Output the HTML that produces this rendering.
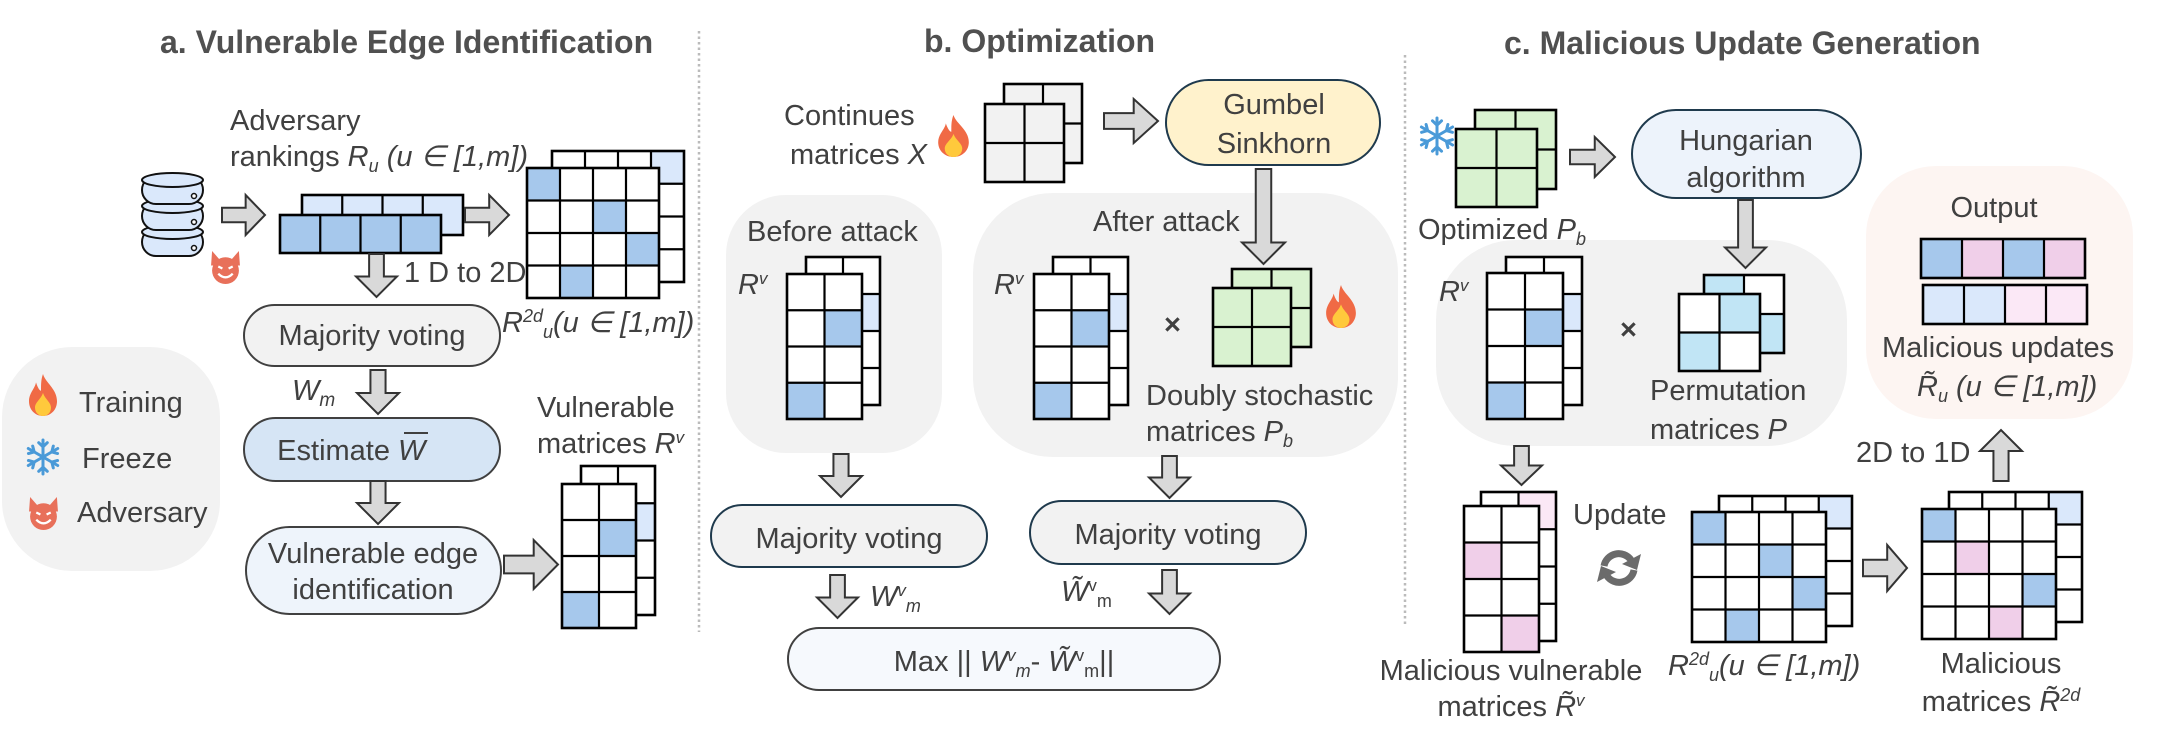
<!DOCTYPE html>
<html><head><meta charset="utf-8"><style>
html,body{margin:0;padding:0;background:#fff;width:2163px;height:756px;overflow:hidden}
svg{display:block}
text{font-family:"Liberation Sans",sans-serif;fill:#404040;font-size:29px}
.t{font-weight:bold;font-size:32px;fill:#505050}
.i{font-style:italic}
</style></head><body>
<svg id="s" width="2163" height="756" viewBox="0 0 2163 756" xmlns="http://www.w3.org/2000/svg">
<g id="bg"></g>
<g id="sh"></g>
<text class="t" x="160" y="53">a. Vulnerable Edge Identification</text>
<text class="t" x="924" y="52">b. Optimization</text>
<text class="t" x="1504" y="54">c. Malicious Update Generation</text>

<text x="230" y="130">Adversary</text>
<text x="230" y="166">rankings <tspan class="i">R</tspan><tspan class="i" font-size="18" dy="6">u</tspan><tspan class="i" dy="-6"> (u ∈ [1,m])</tspan></text>
<text x="404" y="282">1 D to 2D</text>
<text x="502" y="332" class="i">R<tspan font-size="18" dy="-10">2d</tspan><tspan font-size="18" dy="16">u</tspan><tspan dy="-6">(u ∈ [1,m])</tspan></text>
<text x="372" y="345" text-anchor="middle">Majority voting</text>
<text x="292" y="400" class="i" font-family="Liberation Serif">W<tspan font-size="19" dy="6">m</tspan></text>
<text x="390" y="460" text-anchor="end">Estimate</text>
<text x="398" y="460" class="i">W</text>
<text x="373" y="563" text-anchor="middle">Vulnerable edge</text>
<text x="373" y="599" text-anchor="middle">identification</text>
<text x="537" y="417">Vulnerable</text>
<text x="537" y="453">matrices <tspan class="i">R</tspan><tspan class="i" font-size="17" dy="-10">v</tspan></text>
<text x="79" y="412">Training</text>
<text x="82" y="468">Freeze</text>
<text x="77" y="522">Adversary</text>

<text x="784" y="125">Continues</text>
<text x="790" y="164">matrices <tspan class="i">X</tspan></text>
<text x="1274" y="114" text-anchor="middle">Gumbel</text>
<text x="1274" y="153" text-anchor="middle">Sinkhorn</text>
<text x="747" y="241">Before attack</text>
<text x="738" y="294" class="i">R<tspan font-size="17" dy="-10">v</tspan></text>
<text x="1093" y="231">After attack</text>
<text x="994" y="294" class="i">R<tspan font-size="17" dy="-10">v</tspan></text>
<text x="1146" y="405">Doubly stochastic</text>
<text x="1146" y="441">matrices <tspan class="i">P</tspan><tspan class="i" font-size="18" dy="6">b</tspan></text>
<text x="849" y="548" text-anchor="middle">Majority voting</text>
<text x="1168" y="544" text-anchor="middle">Majority voting</text>
<text x="870" y="606" class="i">W<tspan font-size="17" dy="-10">v</tspan><tspan font-size="18" dy="16">m</tspan></text>
<text x="1061" y="601" class="i">W̃<tspan font-size="17" dy="-10" font-style="normal">v</tspan><tspan font-size="18" dy="16" font-style="normal">m</tspan></text>
<text x="1004" y="671" text-anchor="middle">Max || <tspan class="i">W</tspan><tspan font-size="17" dy="-10" class="i">v</tspan><tspan font-size="18" dy="16" class="i">m</tspan><tspan dy="-6">- </tspan><tspan class="i">W̃</tspan><tspan font-size="17" dy="-10">v</tspan><tspan font-size="18" dy="16">m</tspan><tspan dy="-6">||</tspan></text>

<text x="1418" y="239">Optimized <tspan class="i">P</tspan><tspan class="i" font-size="18" dy="6">b</tspan></text>
<text x="1746" y="150" text-anchor="middle">Hungarian</text>
<text x="1746" y="187" text-anchor="middle">algorithm</text>
<text x="1439" y="301" class="i">R<tspan font-size="17" dy="-10">v</tspan></text>
<text x="1650" y="400">Permutation</text>
<text x="1650" y="439">matrices <tspan class="i">P</tspan></text>
<text x="1994" y="217" text-anchor="middle">Output</text>
<text x="1882" y="357">Malicious updates</text>
<text x="1917" y="396" class="i">R̃<tspan font-size="18" dy="6">u</tspan><tspan dy="-6"> (u ∈ [1,m])</tspan></text>
<text x="1856" y="462">2D to 1D</text>
<text x="1573" y="524">Update</text>
<text x="1511" y="680" text-anchor="middle">Malicious vulnerable</text>
<text x="1511" y="716" text-anchor="middle">matrices <tspan class="i">R̃</tspan><tspan class="i" font-size="17" dy="-10">v</tspan></text>
<text x="1668" y="675" class="i">R<tspan font-size="18" dy="-10">2d</tspan><tspan font-size="18" dy="16">u</tspan><tspan dy="-6">(u ∈ [1,m])</tspan></text>
<text x="2001" y="673" text-anchor="middle">Malicious</text>
<text x="2001" y="711" text-anchor="middle">matrices <tspan class="i">R̃</tspan><tspan class="i" font-size="18" dy="-10">2d</tspan></text>
<text x="1164" y="334" font-size="28" font-weight="bold" fill="#404040">×</text>
<text x="1620" y="339" font-size="28" font-weight="bold" fill="#404040">×</text>
</svg>
<script>
var NS="http://www.w3.org/2000/svg",bg=document.getElementById('bg'),sh=document.getElementById('sh');
function el(p,t,a){var e=document.createElementNS(NS,t);for(var k in a)e.setAttribute(k,a[k]);p.appendChild(e);return e;}
function rr(x0,y0,x1,y1,r,f,st){el(bg,'rect',{x:x0,y:y0,width:x1-x0,height:y1-y0,rx:r,fill:f,stroke:st||'none','stroke-width':2});}
function pill(x0,y0,x1,y1,f,st){el(sh,'rect',{x:x0,y:y0,width:x1-x0,height:y1-y0,rx:(y1-y0)/2,fill:f,stroke:st||'#404040','stroke-width':2});}
function mat(x0,y0,x1,y1,c,r,fill,cells){var w=(x1-x0)/c,h=(y1-y0)/r;
 el(sh,'rect',{x:x0,y:y0,width:x1-x0,height:y1-y0,fill:fill});
 for(var k in cells){var p=k.split(',');el(sh,'rect',{x:x0+p[1]*w,y:y0+p[0]*h,width:w,height:h,fill:cells[k]});}
 for(var i=1;i<c;i++)el(sh,'line',{x1:x0+i*w,y1:y0,x2:x0+i*w,y2:y1,stroke:'#000','stroke-width':2.2});
 for(var j=1;j<r;j++)el(sh,'line',{x1:x0,y1:y0+j*h,x2:x1,y2:y0+j*h,stroke:'#000','stroke-width':2.2});
 el(sh,'rect',{x:x0,y:y0,width:x1-x0,height:y1-y0,fill:'none',stroke:'#000','stroke-width':2.6});}
function arr(d,x0,y0,x1,y1){var p,w=x1-x0,h=y1-y0;
 if(d=='r'){var cy=(y0+y1)/2,s=h*0.18,hx=x1-w*0.45;p=[[x0,cy-s],[hx,cy-s],[hx,y0],[x1,cy],[hx,y1],[hx,cy+s],[x0,cy+s]];}
 if(d=='d'){var cx=(x0+x1)/2,s=w*0.18,hy=y1-Math.min(h*0.5,w*0.5);p=[[cx-s,y0],[cx+s,y0],[cx+s,hy],[x1,hy],[cx,y1],[x0,hy],[cx-s,hy]];}
 if(d=='u'){var cx=(x0+x1)/2,s=w*0.18,hy=y0+w*0.5;p=[[cx-s,y1],[cx+s,y1],[cx+s,hy],[x1,hy],[cx,y0],[x0,hy],[cx-s,hy]];}
 el(sh,'polygon',{points:p.map(function(q){return q.join(',')}).join(' '),fill:'#d9d9d9',stroke:'#333','stroke-width':2});}
function fire(x,y,w,h){var g=el(sh,'g',{transform:'translate('+x+','+y+') scale('+w/32+','+h/40+')'});
 el(g,'path',{d:'M16 0 C18 8 30 14 30 26 C30 34 24 40 16 40 C8 40 2 34 2 26 C2 18 8 14 9 8 C11 14 13 16 14 16 C14 10 14 5 16 0Z',fill:'#f06a45'});
 el(g,'path',{d:'M16 18 C18 24 24 27 24 32 C24 37 20 40 16 40 C12 40 8 37 8 32 C8 27 14 24 16 18Z',fill:'#ffc93c'});}
function devil(x,y,s){var g=el(sh,'g',{transform:'translate('+x+','+y+') scale('+s/32+')'});
 el(g,'path',{d:'M3 0 L10 8 L22 8 L29 0 L30 14 L2 14Z',fill:'#e8705a'});
 el(g,'circle',{cx:16,cy:19,r:13,fill:'#e8705a'});
 el(g,'path',{d:'M9 15 L13 17 M23 15 L19 17',stroke:'#fff','stroke-width':2.2});
 el(g,'path',{d:'M9 22 Q16 29 23 22',stroke:'#fff','stroke-width':2.2,fill:'none'});}
function snow(cx,cy,r){var g=el(sh,'g',{stroke:'#4a9ad8','stroke-width':3,'stroke-linecap':'round',fill:'none'});
 for(var a=0;a<6;a++){var t=a*Math.PI/3+Math.PI/2,dx=Math.cos(t),dy=Math.sin(t);
  el(g,'line',{x1:cx,y1:cy,x2:cx+dx*r,y2:cy+dy*r});
  var bx=cx+dx*r*0.6,by=cy+dy*r*0.6;
  for(var s=-1;s<=1;s+=2){var t2=t+s*0.8;el(g,'line',{x1:bx,y1:by,x2:bx+Math.cos(t2)*r*0.35,y2:by+Math.sin(t2)*r*0.35});}}}
var B='#a6c8ec',LB='#dae8fb',P='#f0cfe9',LP='#fbe8f6',G='#d9f2d0',PB='#c1e5f5',W='#fff';
rr(2,347,220,571,70,'#f2f2f2');
rr(726,195,942,453,60,'#f2f2f2');
rr(973,193,1398,457,80,'#f2f2f2');
rr(1436,240,1847,446,80,'#f2f2f2');
rr(1866,166,2133,419,70,'#fdf5f2');
el(bg,'line',{x1:699,y1:31,x2:699,y2:632,stroke:'#bbb','stroke-width':2.5,'stroke-dasharray':'2.5 3'});
el(bg,'line',{x1:1405,y1:55,x2:1405,y2:625,stroke:'#bbb','stroke-width':2.5,'stroke-dasharray':'2.5 3'});
(function(){var g=sh;for(var i=2;i>=0;i--){var y=176+i*26;
 el(g,'rect',{x:142,y:y,width:61,height:28,rx:14,fill:'#dae8fb',stroke:'#111','stroke-width':2});
 el(g,'ellipse',{cx:172.5,cy:y+4,rx:30.5,ry:7,fill:'#dae8fb',stroke:'#111','stroke-width':2});
 el(g,'circle',{cx:194,cy:y+20,r:2.5,fill:'#fff',stroke:'#111','stroke-width':1.5});}})();
devil(209,251,33);
arr('r',222,195,265,235);
mat(302,195,463,235,4,1,LB,{});
mat(280,215,441,253,4,1,B,{});
arr('r',465,195,509,235);
mat(552,151,684,282,4,4,W,{'0,3':LB});
mat(527,168,659,298,4,4,W,{'0,0':B,'1,2':B,'2,3':B,'3,1':B});
arr('d',356,254,397,297);
pill(244,305,500,366,'#f2f2f2');
arr('d',357,370,399,414);
pill(244,418,500,481,'#d6e5f5');
el(sh,'line',{x1:404,y1:433,x2:428,y2:433,stroke:'#404040','stroke-width':2});
arr('d',357,481,399,524);
pill(246,527,501,614,'#eef4fb');
arr('r',504,540,558,589);
mat(581,466,655,615,2,4,W,{'1,1':LB});
mat(562,484,636,628,2,4,W,{'1,1':B,'3,0':B});
fire(27,374,32,42);
snow(43,457,17);
devil(27,497,33);
fire(936,115,35,42);
mat(1004,84,1082,163,2,2,'#f2f2f2',{});
mat(985,104,1064,182,2,2,'#f2f2f2',{});
arr('r',1104,99,1158,143);
pill(1166,80,1380,165,'#fff2cc','#1f3a4d');
arr('d',1242,169,1285,264);
mat(806,257,880,405,2,4,W,{'1,1':LB});
mat(787,274,862,419,2,4,W,{'1,1':B,'3,0':B});
mat(1053,257,1128,405,2,4,W,{'1,1':LB});
mat(1034,274,1109,419,2,4,W,{'1,1':B,'3,0':B});
mat(1232,269,1311,347,2,2,G,{});
mat(1213,288,1291,366,2,2,G,{});
fire(1324,285,34,43);
arr('d',820,454,862,497);
arr('d',1149,456,1190,498);
pill(711,505,987,567,'#f2f2f2','#1f3a4d');
pill(1030,501,1306,564,'#f2f2f2','#1f3a4d');
arr('d',817,575,858,618);
arr('d',1149,570,1190,614);
pill(788,628,1220,690,'#f6f9fd','#404040');
snow(1437,136,18);
mat(1475,110,1556,189,2,2,G,{});
mat(1456,129,1537,207,2,2,G,{});
arr('r',1570,137,1615,177);
pill(1632,110,1861,198,'#edf3fb','#1f3a4d');
arr('d',1725,200,1766,268);
mat(1506,257,1582,405,2,4,W,{'1,1':LB});
mat(1487,273,1563,419,2,4,W,{'1,1':B,'3,0':B});
mat(1704,275,1784,353,2,2,W,{'0,0':PB,'1,1':PB});
mat(1679,294,1760,371,2,2,W,{'0,1':PB,'1,0':PB});
mat(1921,239,2085,278,4,1,W,{'0,0':B,'0,1':P,'0,2':B,'0,3':P});
mat(1923,285,2087,324,4,1,W,{'0,0':LB,'0,1':LB,'0,2':LP,'0,3':LP});
arr('d',1501,446,1542,485);
arr('u',1980,430,2022,481);
mat(1481,492,1556,641,2,4,W,{'0,1':LP});
mat(1464,506,1539,652,2,4,W,{'1,0':P,'3,1':P});
mat(1719,496,1852,626,4,4,W,{'0,3':LB});
mat(1692,512,1826,642,4,4,W,{'0,0':B,'1,2':B,'2,3':B,'3,1':B});
arr('r',1863,545,1907,591);
mat(1949,492,2082,622,4,4,W,{'0,3':LB});
mat(1922,509,2056,639,4,4,W,{'0,0':B,'1,1':P,'2,3':B,'3,2':P});
(function(){var cx=1619,cy=568,r=15;
 el(sh,'path',{d:'M'+(cx-r)+' '+(cy-2)+' A'+r+' '+r+' 0 0 1 '+(cx+r-3)+' '+(cy-8),fill:'none',stroke:'#6b6b6b','stroke-width':7});
 el(sh,'polygon',{points:(cx+r+7)+','+(cy-14)+' '+(cx+r+3)+','+(cy+2)+' '+(cx+r-12)+','+(cy-4),fill:'#6b6b6b'});
 el(sh,'path',{d:'M'+(cx+r)+' '+(cy+2)+' A'+r+' '+r+' 0 0 1 '+(cx-r+3)+' '+(cy+8),fill:'none',stroke:'#6b6b6b','stroke-width':7});
 el(sh,'polygon',{points:(cx-r-7)+','+(cy+14)+' '+(cx-r-3)+','+(cy-2)+' '+(cx-r+12)+','+(cy+4),fill:'#6b6b6b'});})();
</script>
</body></html>
